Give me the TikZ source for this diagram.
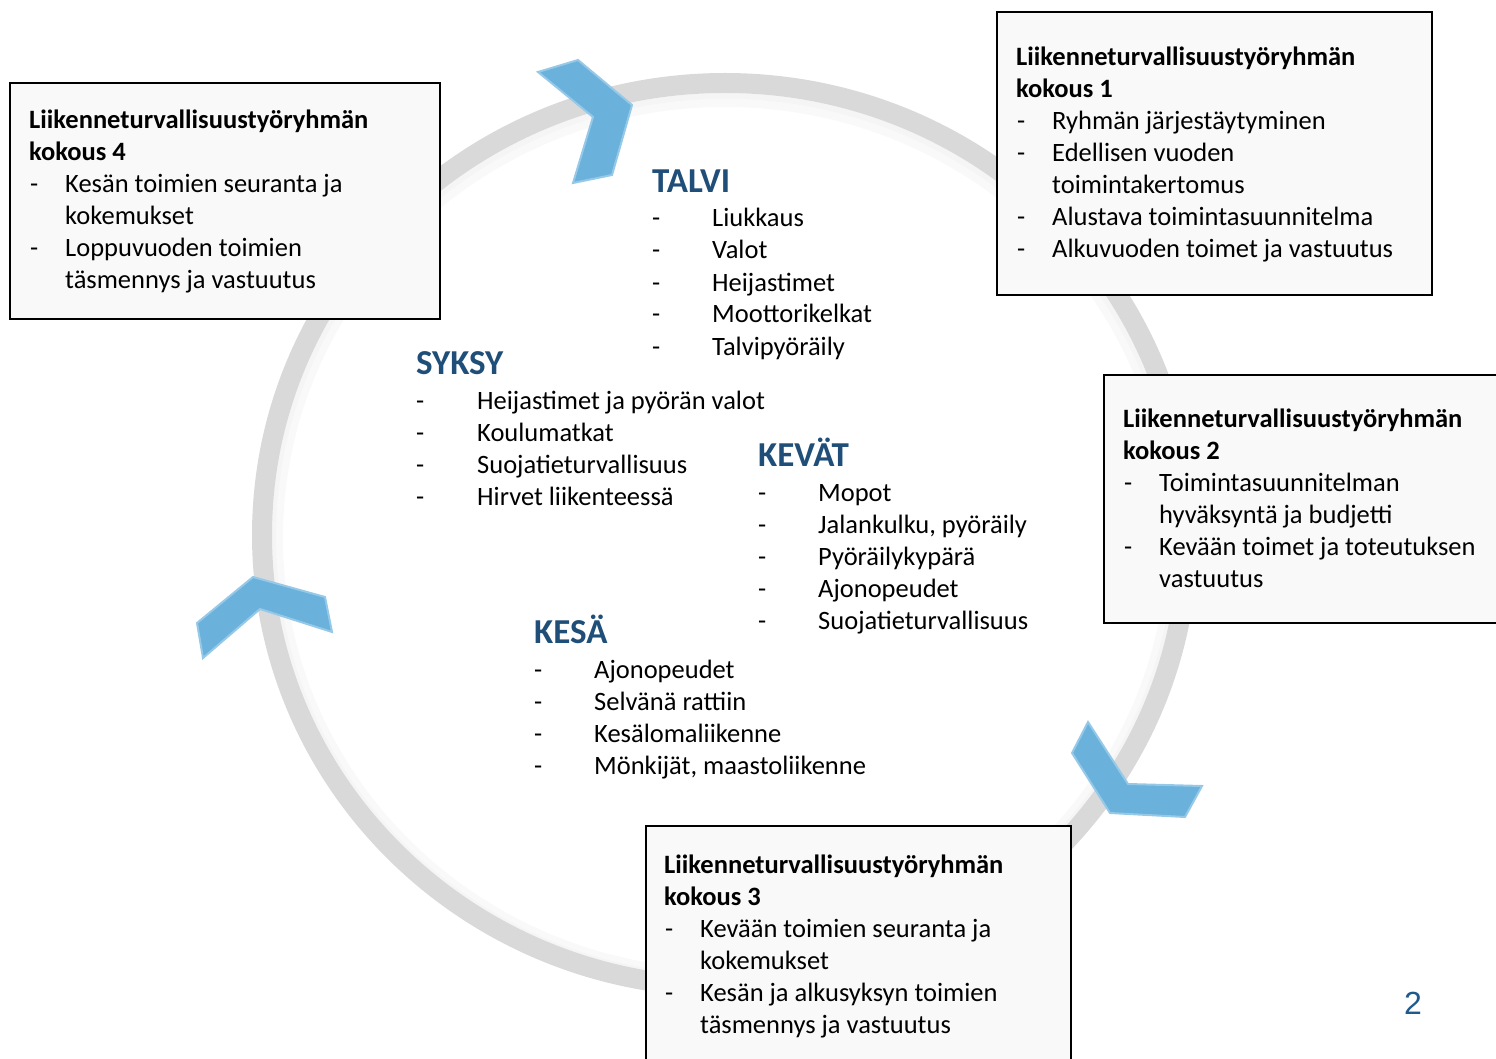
\documentclass[tikz,border=0pt]{standalone}
\usepackage{fontspec}
\setmainfont{Carlito}
\newfontfamily\arialf{Liberation Sans}
\definecolor{ringgray}{RGB}{217,217,217}
\definecolor{chevfill}{RGB}{106,178,219}
\definecolor{chevline}{RGB}{150,200,232}
\definecolor{headblue}{RGB}{31,78,121}
\definecolor{boxfill}{RGB}{249,249,249}
\definecolor{numblue}{RGB}{31,90,140}
\begin{document}
\begin{tikzpicture}[x=1pt,y=-1pt,
  txt/.style={anchor=base west, inner sep=0pt, font=\fontsize{26.5}{32}\selectfont},
  ttl/.style={anchor=base west, inner sep=0pt, font=\fontsize{26.5}{32}\selectfont\bfseries},
  head/.style={anchor=base west, inner sep=0pt, font=\fontsize{35}{40}\selectfont\bfseries, text=headblue},
  box/.style={draw=black, line width=2pt, fill=boxfill, anchor=north west, inner sep=0pt},
  chev/.style={fill=chevfill, draw=chevline, line width=2pt, line join=miter}]
\useasboundingbox (0,0) rectangle (1496,1059);
% ring with soft inner shadow
\draw[black!2.5, line width=8pt] (725,538) ellipse [x radius=446, y radius=435];
\draw[black!4, line width=6pt] (725,537) ellipse [x radius=452, y radius=441];
\draw[ringgray, line width=20pt] (725,535) ellipse [x radius=463, y radius=452];
% chevrons
\filldraw[chev] (538,72) -- (578,60) -- (632,105) -- (612,175) -- (573,183) -- (593,117) -- cycle;
\filldraw[chev] (197,623) -- (253,577) -- (325,597) -- (332,632) -- (260,609) -- (203,658) -- cycle;
\filldraw[chev] (1088,722) -- (1072,753) -- (1110,813) -- (1185,817) -- (1202,786) -- (1128,784) -- cycle;
% boxes
\node[box, minimum width=430, minimum height=236] (box4) at (9,82) {};
\node[box, minimum width=435, minimum height=283] (box1) at (996,11) {};
\node[box, minimum width=410, minimum height=248] (box2) at (1103,374) {};
\node[box, minimum width=425, minimum height=260] (box3) at (645,825) {};
% box 4
\node[ttl] (b4a) at (29,129) {Liikenneturvallisuustyöryhmän};
\node[ttl] (b4b) at (29,161) {kokous 4};
\node[txt] (b4d1) at (30,193) {-};
\node[txt] (b4c) at (65,193) {Kesän toimien seuranta ja};
\node[txt] (b4e) at (65,225) {kokemukset};
\node[txt] (b4d2) at (30,257) {-};
\node[txt] (b4f) at (65,257) {Loppuvuoden toimien};
\node[txt] (b4g) at (65,289) {täsmennys ja vastuutus};
% box 1
\node[ttl] (b1a) at (1016,66) {Liikenneturvallisuustyöryhmän};
\node[ttl] (b1b) at (1016,98) {kokous 1};
\node[txt] (b1d1) at (1017,130) {-};
\node[txt] (b1c) at (1052,130) {Ryhmän järjestäytyminen};
\node[txt] (b1d2) at (1017,162) {-};
\node[txt] (b1e) at (1052,162) {Edellisen vuoden};
\node[txt] (b1f) at (1052,194) {toimintakertomus};
\node[txt] (b1d3) at (1017,226) {-};
\node[txt] (b1g) at (1052,226) {Alustava toimintasuunnitelma};
\node[txt] (b1d4) at (1017,258) {-};
\node[txt] (b1h) at (1052,258) {Alkuvuoden toimet ja vastuutus};
% box 2
\node[ttl] (b2a) at (1123,427) {Liikenneturvallisuustyöryhmän};
\node[ttl] (b2b) at (1123,459) {kokous 2};
\node[txt] (b2d1) at (1124,491) {-};
\node[txt] (b2c) at (1159,491) {Toimintasuunnitelman};
\node[txt] (b2e) at (1159,523) {hyväksyntä ja budjetti};
\node[txt] (b2d2) at (1124,555) {-};
\node[txt] (b2f) at (1159,555) {Kevään toimet ja toteutuksen};
\node[txt] (b2g) at (1159,587) {vastuutus};
% box 3
\node[ttl] (b3a) at (664,873) {Liikenneturvallisuustyöryhmän};
\node[ttl] (b3b) at (664,905) {kokous 3};
\node[txt] (b3d1) at (665,937) {-};
\node[txt] (b3c) at (700,937) {Kevään toimien seuranta ja};
\node[txt] (b3e) at (700,969) {kokemukset};
\node[txt] (b3d2) at (665,1001) {-};
\node[txt] (b3f) at (700,1001) {Kesän ja alkusyksyn toimien};
\node[txt] (b3g) at (700,1033) {täsmennys ja vastuutus};
% TALVI
\node[head] (talvi) at (652,193) {TALVI};
\node[txt] (tad1) at (652,227) {-}; \node[txt] (ta1) at (712,227) {Liukkaus};
\node[txt] (tad2) at (652,259) {-}; \node[txt] (ta2) at (712,259) {Valot};
\node[txt] (tad3) at (652,291) {-}; \node[txt] (ta3) at (712,291) {Heijastimet};
\node[txt] (tad4) at (652,323) {-}; \node[txt] (ta4) at (712,323) {Moottorikelkat};
\node[txt] (tad5) at (652,355) {-}; \node[txt] (ta5) at (712,355) {Talvipyöräily};
% SYKSY
\node[head] (syksy) at (416,374) {SYKSY};
\node[txt] (syd1) at (416,409) {-}; \node[txt] (sy1) at (477,409) {Heijastimet ja pyörän valot};
\node[txt] (syd2) at (416,441) {-}; \node[txt] (sy2) at (477,441) {Koulumatkat};
\node[txt] (syd3) at (416,473) {-}; \node[txt] (sy3) at (477,473) {Suojatieturvallisuus};
\node[txt] (syd4) at (416,505) {-}; \node[txt] (sy4) at (477,505) {Hirvet liikenteessä};
% KEVAT
\node[head] (kevat) at (758,466) {KEVÄT};
\node[txt] (ked1) at (758,501) {-}; \node[txt] (ke1) at (818,501) {Mopot};
\node[txt] (ked2) at (758,533) {-}; \node[txt] (ke2) at (818,533) {Jalankulku, pyöräily};
\node[txt] (ked3) at (758,565) {-}; \node[txt] (ke3) at (818,565) {Pyöräilykypärä};
\node[txt] (ked4) at (758,597) {-}; \node[txt] (ke4) at (818,597) {Ajonopeudet};
\node[txt] (ked5) at (758,629) {-}; \node[txt] (ke5) at (818,629) {Suojatieturvallisuus};
% KESA
\node[head] (kesa) at (534,643) {KESÄ};
\node[txt] (ksd1) at (534,678) {-}; \node[txt] (ks1) at (594,678) {Ajonopeudet};
\node[txt] (ksd2) at (534,710) {-}; \node[txt] (ks2) at (594,710) {Selvänä rattiin};
\node[txt] (ksd3) at (534,742) {-}; \node[txt] (ks3) at (594,742) {Kesälomaliikenne};
\node[txt] (ksd4) at (534,774) {-}; \node[txt] (ks4) at (594,774) {Mönkijät, maastoliikenne};
% page number
\node[inner sep=0pt, font=\arialf\fontsize{32}{36}\selectfont, text=numblue] (num) at (1413,1003) {2};
\end{tikzpicture}
\end{document}
